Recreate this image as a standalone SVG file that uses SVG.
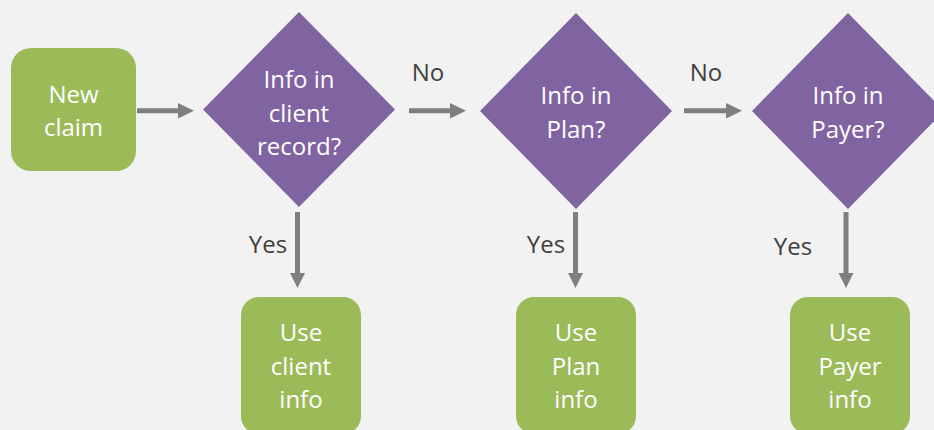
<svg xmlns="http://www.w3.org/2000/svg" width="934" height="430" viewBox="0 0 934 430">
<defs>
<style>
.box{fill:#9BBB59}
.dia{fill:#8064A2}
.nt{font-family:"Open Sans","Noto Sans",sans-serif;font-size:24px;fill:#FFFFFF;text-anchor:middle}
.lb{font-family:"Open Sans","Noto Sans",sans-serif;font-size:24px;fill:#3F3F3F;text-anchor:middle}
.ln{stroke:#7F7F7F;stroke-width:5;fill:none}
.ah{fill:#7F7F7F}
</style>
</defs>
<rect width="934" height="430" fill="#F2F2F2"/>
<g id="connectors">
<line class="ln" x1="137" y1="110.7" x2="180" y2="110.7"/>
<polygon class="ah" points="178,103 194,110.7 178,118.4"/>
<line class="ln" x1="409" y1="110.7" x2="452" y2="110.7"/>
<polygon class="ah" points="450,103 466,110.7 450,118.4"/>
<line class="ln" x1="684" y1="110.7" x2="728" y2="110.7"/>
<polygon class="ah" points="726,103 742,110.7 726,118.4"/>
<line class="ln" x1="297.5" y1="212" x2="297.5" y2="275"/>
<polygon class="ah" points="290,273 297.5,288 305,273"/>
<line class="ln" x1="575.5" y1="212" x2="575.5" y2="275"/>
<polygon class="ah" points="568,273 575.5,288 583,273"/>
<line class="ln" x1="846" y1="212" x2="846" y2="275"/>
<polygon class="ah" points="838.5,273 846,288 853.5,273"/>
<text class="lb" x="428" y="81">No</text>
<text class="lb" x="706" y="81">No</text>
<text class="lb" x="268" y="253">Yes</text>
<text class="lb" x="546" y="253">Yes</text>
<text class="lb" x="793" y="255">Yes</text>
</g>
<g id="new-claim">
<rect class="box" x="11" y="48" width="125" height="123" rx="20"/>
<text class="nt" x="73.5" y="103">New</text>
<text class="nt" x="73.5" y="136">claim</text>
</g>
<g id="q-client">
<polygon class="dia" points="299,12 395,109.5 299,207 203,109.5"/>
<text class="nt" x="299" y="88">Info in</text>
<text class="nt" x="299" y="122">client</text>
<text class="nt" x="299" y="155">record?</text>
</g>
<g id="q-plan">
<polygon class="dia" points="576,13 672,111 576,209 480,111"/>
<text class="nt" x="576" y="104">Info in</text>
<text class="nt" x="576" y="138">Plan?</text>
</g>
<g id="q-payer">
<polygon class="dia" points="848,13 944,111 848,209 752,111"/>
<text class="nt" x="848" y="104">Info in</text>
<text class="nt" x="848" y="138">Payer?</text>
</g>
<g id="use-client">
<rect class="box" x="241" y="297" width="120" height="137" rx="18"/>
<text class="nt" x="301" y="341">Use</text>
<text class="nt" x="301" y="375">client</text>
<text class="nt" x="301" y="408">info</text>
</g>
<g id="use-plan">
<rect class="box" x="516" y="297" width="120" height="137" rx="18"/>
<text class="nt" x="576" y="341">Use</text>
<text class="nt" x="576" y="375">Plan</text>
<text class="nt" x="576" y="408">info</text>
</g>
<g id="use-payer">
<rect class="box" x="790" y="297" width="120" height="137" rx="18"/>
<text class="nt" x="850" y="341">Use</text>
<text class="nt" x="850" y="375">Payer</text>
<text class="nt" x="850" y="408">info</text>
</g>
</svg>
